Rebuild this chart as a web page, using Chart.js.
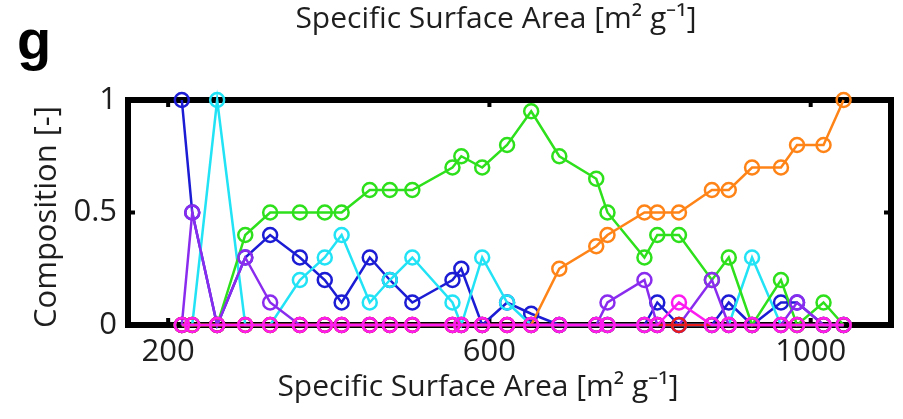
<!DOCTYPE html>
<html>
<head>
<meta charset="utf-8">
<script src="https://cdn.jsdelivr.net/npm/chart.js@4.4.1/dist/chart.umd.min.js"></script>
<style>
  html, body { margin: 0; padding: 0; background: #fff; }
  #wrap { width: 903px; height: 419px; }
</style>
</head>
<body>
<div id="wrap"><canvas id="chart"></canvas></div>
<script>
(function () {
  'use strict';

  // ── Data ────────────────────────────────────────────────
  // specific surface area of each sample [m2 g-1]
  var SSA = [217, 230, 261, 296, 327, 364, 395, 416, 451, 476, 504, 554, 565, 591, 622,
             652, 687, 733, 747, 793, 809, 836, 877, 898, 927, 963, 983, 1016, 1041];

  var BLUE    = [1, 0.5, 0, 0.3, 0.4, 0.3, 0.2, 0.1, 0.3, 0.2, 0.1, 0.2, 0.25, 0, 0.1,
                 0.05, 0, 0, 0, 0, 0.1, 0, 0, 0.1, 0, 0.1, 0.1, 0, 0];
  var CYAN    = [0, 0, 1, 0, 0, 0.2, 0.3, 0.4, 0.1, 0.2, 0.3, 0.1, 0, 0.3, 0.1,
                 0, 0, 0, 0, 0, 0, 0, 0, 0, 0.3, 0, 0, 0, 0];
  var GREEN   = [0, 0, 0, 0.4, 0.5, 0.5, 0.5, 0.5, 0.6, 0.6, 0.6, 0.7, 0.75, 0.7, 0.8,
                 0.95, 0.75, 0.65, 0.5, 0.3, 0.4, 0.4, 0.2, 0.3, 0, 0.2, 0, 0.1, 0];
  var ORANGE  = [0, 0, 0, 0, 0, 0, 0, 0, 0, 0, 0, 0, 0, 0, 0,
                 0, 0.25, 0.35, 0.4, 0.5, 0.5, 0.5, 0.6, 0.6, 0.7, 0.7, 0.8, 0.8, 1];
  var PURPLE  = [0, 0.5, 0, 0.3, 0.1, 0, 0, 0, 0, 0, 0, 0, 0, 0, 0,
                 0, 0, 0, 0.1, 0.2, 0, 0, 0.2, 0, 0, 0, 0.1, 0, 0];
  var RED     = [0, 0, 0, 0, 0, 0, 0, 0, 0, 0, 0, 0, 0, 0, 0,
                 0, 0, 0, 0, 0, 0, 0, 0, 0, 0, 0, 0, 0, 0];
  var MAGENTA = [0, 0, 0, 0, 0, 0, 0, 0, 0, 0, 0, 0, 0, 0, 0,
                 0, 0, 0, 0, 0, 0, 0.1, 0, 0, 0, 0, 0, 0, 0];

  var X_TICKS = [200, 600, 1000];
  var Y_TICKS = [0, 0.5, 1];

  var AXIS_TITLE = 'Specific Surface Area [m\u00B2 g\u207B\u00B9]';
  var Y_TITLE    = 'Composition [-]';
  var PANEL      = 'g';

  var FONT = '"Open Sans", sans-serif';

  function series(label, values, color, order) {
    return {
      label: label,
      data: values.map(function (v, i) { return { x: SSA[i], y: v }; }),
      borderColor: color,
      backgroundColor: 'rgba(0,0,0,0)',
      borderWidth: 2.5,
      pointRadius: 7,
      pointBorderWidth: 2.5,
      pointBackgroundColor: 'rgba(0,0,0,0)',
      pointBorderColor: color,
      tension: 0,
      clip: false,
      order: order
    };
  }

  // ── Frame, inner ticks and texts ────────────────────────
  var framePlugin = {
    id: 'frame',
    beforeDatasetsDraw: function (chart) {
      var c = chart.ctx, a = chart.chartArea;
      var xs = chart.scales.x, ys = chart.scales.y;
      c.save();
      c.strokeStyle = '#000';
      c.lineWidth = 6;
      c.strokeRect(a.left, a.top, a.right - a.left, a.bottom - a.top);
      c.lineWidth = 4;
      c.beginPath();
      X_TICKS.forEach(function (v) {
        var px = xs.getPixelForValue(v);
        c.moveTo(px, a.bottom); c.lineTo(px, a.bottom - 7);
        c.moveTo(px, a.top);    c.lineTo(px, a.top + 7);
      });
      Y_TICKS.forEach(function (v) {
        var py = ys.getPixelForValue(v);
        c.moveTo(a.left, py);  c.lineTo(a.left + 7, py);
        c.moveTo(a.right, py); c.lineTo(a.right - 7, py);
      });
      c.stroke();
      c.restore();
    },
    afterDraw: function (chart) {
      var c = chart.ctx;
      c.save();
      c.fillStyle = '#1e1e1e';
      c.textAlign = 'center';
      c.textBaseline = 'middle';
      c.font = '30px ' + FONT;
      c.fillText(AXIS_TITLE, 496, 19);
      c.fillText(AXIS_TITLE, 478, 387);

      c.save();
      c.translate(47, 217);
      c.rotate(-Math.PI / 2);
      c.font = '31px ' + FONT;
      c.fillText(Y_TITLE, 0, 0);
      c.restore();

      c.fillStyle = '#000';
      c.font = 'bold 56px "Liberation Sans", Arial, sans-serif';
      c.textAlign = 'left';
      c.textBaseline = 'alphabetic';
      c.fillText(PANEL, 17, 59);
      c.restore();
    }
  };

  function plainLabel(v) { return String(v); }

  new Chart(document.getElementById('chart'), {
    type: 'line',
    data: {
      datasets: [
        series('Blue', BLUE, '#1c1cd4', 6),
        series('Cyan', CYAN, '#22e3f5', 5),
        series('Green', GREEN, '#2ee01c', 4),
        series('Orange', ORANGE, '#ff8418', 3),
        series('Purple', PURPLE, '#8a2cee', 2),
        series('Red', RED, '#e81c1c', 1),
        series('Magenta', MAGENTA, '#fc1cf0', 0)
      ]
    },
    options: {
      responsive: true,
      maintainAspectRatio: false,
      animation: false,
      layout: { padding: { top: 100, right: 12, left: 0, bottom: 0 } },
      plugins: {
        legend: { display: false },
        tooltip: { enabled: false },
        title: { display: false }
      },
      scales: {
        x: {
          type: 'linear',
          min: 150,
          max: 1100,
          grid: { display: false, drawTicks: false },
          border: { display: false },
          afterBuildTicks: function (s) { s.ticks = X_TICKS.map(function (v) { return { value: v }; }); },
          afterFit: function (s) { s.height = 94; },
          ticks: { padding: 9, color: '#1e1e1e', maxRotation: 0, callback: plainLabel,
                   font: { family: FONT, size: 31 } }
        },
        y: {
          min: 0,
          max: 1,
          grid: { display: false, drawTicks: false },
          border: { display: false },
          afterBuildTicks: function (s) { s.ticks = Y_TICKS.map(function (v) { return { value: v }; }); },
          afterFit: function (s) { s.width = 128; },
          ticks: { padding: 11, color: '#1e1e1e', callback: plainLabel,
                   font: { family: FONT, size: 31 } }
        }
      }
    },
    plugins: [framePlugin]
  });
}());
</script>
</body>
</html>
